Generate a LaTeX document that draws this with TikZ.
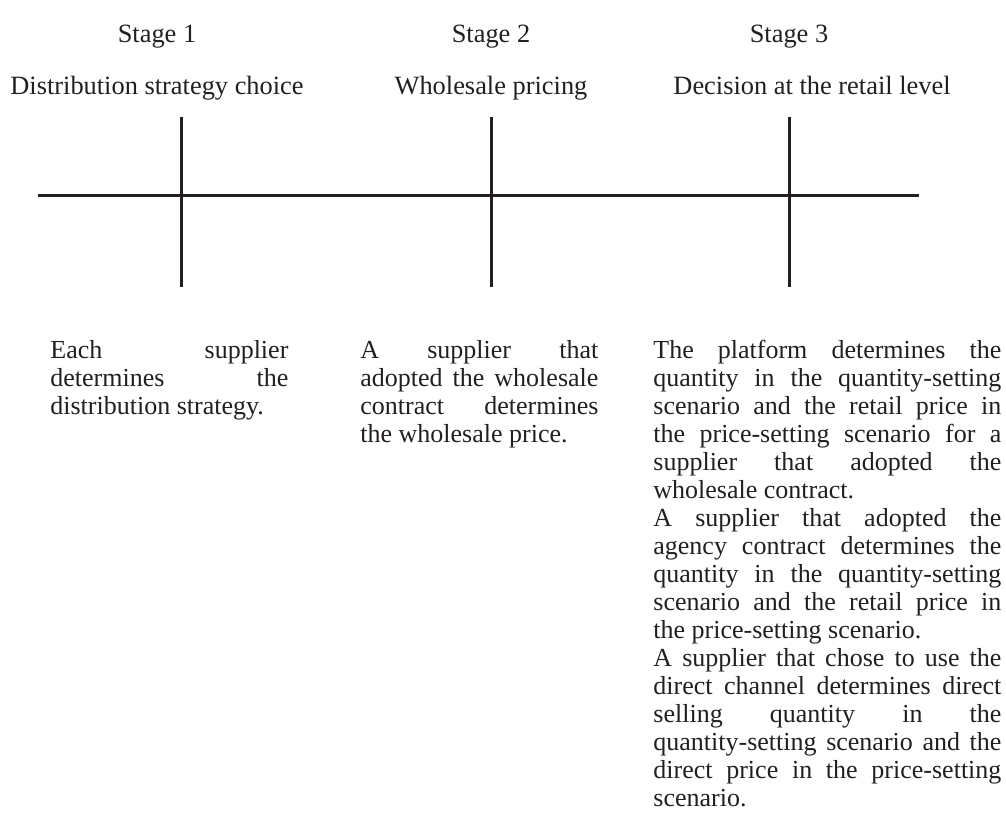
\documentclass[tikz,border=0pt]{standalone}
\usepackage{fontspec}
\setmainfont{Liberation Serif}
\definecolor{inkgray}{RGB}{35,31,32}
\begin{document}
\begin{tikzpicture}[x=0.5pt,y=-0.5pt,
    stagetitle/.style={anchor=base,inner sep=0pt,text=inkgray,
      font=\fontsize{13.2pt}{14pt}\selectfont},
    stagetext/.style={anchor=north west,inner sep=0pt,text=inkgray,
      text width=#1,align=justify,font=\fontsize{13pt}{14pt}\selectfont,
      execute at begin node={\hyphenpenalty=10000 \exhyphenpenalty=10000 }},
    timeline/.style={draw=inkgray,line width=1.5pt}]
  \useasboundingbox (0,0) rectangle (1006,830);
  % time axis and the three stage ticks
  \coordinate (axisstart) at (38,195);
  \coordinate (axisend) at (919,195);
  \draw[timeline] (axisstart) -- (axisend);
  \foreach \x/\n in {181/one,491/two,789/three}{
    \coordinate (tick\n top) at (\x,117);
    \coordinate (tick\n bottom) at (\x,287);
    \draw[timeline] (tick\n top) -- (tick\n bottom);
  }
  % stage headings
  \node[stagetitle] (stageone) at (157,42) {Stage 1};
  \node[stagetitle] (stagetwo) at (491,42) {Stage 2};
  \node[stagetitle] (stagethree) at (789,42) {Stage 3};
  \node[stagetitle] (titleone) at (157,94) {Distribution strategy choice};
  \node[stagetitle] (titletwo) at (491,94) {Wholesale pricing};
  \node[stagetitle] (titlethree) at (812,94) {Decision at the retail level};
  % what each stage decides
  \node[stagetext=119pt] (textone) at (50,340)
    {Each supplier\linebreak determines the\linebreak distribution strategy.};
  \node[stagetext=119pt] (texttwo) at (360,340)
    {A supplier that\linebreak adopted the wholesale\linebreak contract determines\linebreak the wholesale price.};
  \node[stagetext=174pt] (textthree) at (653,340)
    {The platform determines the\linebreak
     quantity in the quantity-setting\linebreak
     scenario and the retail price in\linebreak
     the price-setting scenario for a\linebreak
     supplier that adopted the\linebreak
     wholesale contract.\\
     A supplier that adopted the\linebreak
     agency contract determines the\linebreak
     quantity in the quantity-setting\linebreak
     scenario and the retail price in\linebreak
     the price-setting scenario.\\
     A supplier that chose to use the\linebreak
     direct channel determines direct\linebreak
     selling quantity in the\linebreak
     quantity-setting scenario and the\linebreak
     direct price in the price-setting\linebreak
     scenario.};
\end{tikzpicture}
\end{document}
